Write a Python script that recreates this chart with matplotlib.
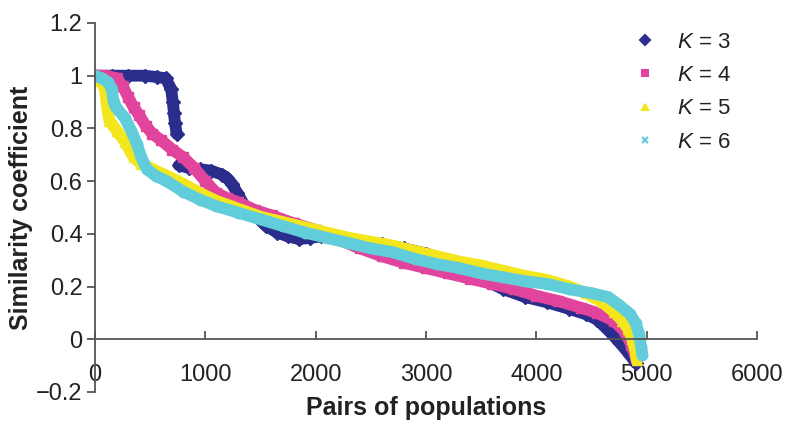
import numpy as np
import matplotlib
matplotlib.use("Agg")
import matplotlib.pyplot as plt
from matplotlib.lines import Line2D

plt.rcParams['font.family'] = ['Liberation Sans', 'DejaVu Sans']
plt.rcParams['mathtext.fontset'] = 'custom'
plt.rcParams['mathtext.it'] = 'Liberation Sans:italic'
plt.rcParams['mathtext.rm'] = 'Liberation Sans'

# sorted similarity coefficients (nan = gap in the points)
k3_x = [0, 150, 300, 450, 560, 640, 690, 705, 715, 725, 740, np.nan, 760, 850, 950, 1050, 1150, 1200,
        1240, 1290, 1350, 1450, 1550, 1650, 1750, 1850, 1950, 2050, 2150, 2250, 2400, 2600, 2800,
        3000, 3200, 3400, 3550, 3700, 3900, 4100, 4300, 4450, 4550, 4650, 4750, 4850, 4900]
k3_y = [1.0, 1.0, 1.0, 1.0, 0.995, 0.99, 0.95, 0.90, 0.86, 0.82, 0.78, np.nan, 0.66, 0.65, 0.645, 0.64,
        0.625, 0.61, 0.59, 0.555, 0.51, 0.47, 0.43, 0.405, 0.39, 0.38, 0.385, 0.39, 0.395, 0.385,
        0.37, 0.36, 0.345, 0.325, 0.30, 0.26, 0.22, 0.19, 0.16, 0.14, 0.115, 0.095, 0.075, 0.035,
        -0.01, -0.06, -0.09]

k4_x = [0, 100, 200, 250, 300, 350, 400, 460, 520, 600, 700, 800, 900, 1000, 1100, 1200, 1300,
        1450, 1600, 1800, 2000, 2200, 2400, 2600, 2800, 3000, 3200, 3400, 3600, 3800, 4000, 4200,
        4400, 4550, 4700, 4800, 4860, 4900]
k4_y = [1.0, 1.0, 0.99, 0.96, 0.92, 0.88, 0.85, 0.81, 0.78, 0.755, 0.72, 0.69, 0.65, 0.60, 0.555,
        0.535, 0.52, 0.49, 0.47, 0.44, 0.415, 0.38, 0.345, 0.315, 0.29, 0.27, 0.25, 0.23, 0.21,
        0.19, 0.165, 0.145, 0.12, 0.10, 0.07, 0.03, -0.02, -0.07]

k5_x = [0, 50, 90, 110, 130, 200, 270, 350, 420, 500, 600, 700, 800, 950, 1100, 1300, 1500, 1700,
        1900, 2100, 2300, 2500, 2700, 2900, 3100, 3300, 3500, 3700, 3900, 4100, 4300, 4450, 4600,
        4700, 4780, 4830, 4870, 4900, 4910]
k5_y = [1.0, 0.98, 0.95, 0.88, 0.83, 0.79, 0.75, 0.69, 0.665, 0.65, 0.63, 0.61, 0.59, 0.555, 0.525,
        0.495, 0.465, 0.445, 0.425, 0.405, 0.385, 0.37, 0.355, 0.335, 0.315, 0.295, 0.28, 0.26,
        0.24, 0.225, 0.20, 0.175, 0.14, 0.105, 0.07, 0.04, 0.0, -0.05, -0.08]

k6_x = [0, 60, 120, 150, 170, 190, 270, 330, 380, 420, 470, 550, 650, 800, 950, 1100, 1300, 1500,
        1700, 1900, 2100, 2300, 2500, 2700, 2900, 3100, 3300, 3500, 3700, 3900, 4100, 4300, 4500,
        4650, 4750, 4850, 4900, 4930, 4950, 4960]
k6_y = [1.0, 0.99, 0.975, 0.95, 0.90, 0.88, 0.84, 0.79, 0.74, 0.69, 0.645, 0.62, 0.60, 0.56, 0.53,
        0.505, 0.48, 0.455, 0.43, 0.405, 0.385, 0.365, 0.345, 0.33, 0.305, 0.285, 0.27, 0.25,
        0.235, 0.22, 0.21, 0.19, 0.175, 0.16, 0.13, 0.095, 0.06, 0.02, -0.03, -0.06]

labels = [r'$K$ = 3', r'$K$ = 4', r'$K$ = 5', r'$K$ = 6']
colors = ['#2a2d8c', '#e0449c', '#f4e61c', '#62cdda']
markers = ['D', 's', '^', 'x']

y_ticks = [-0.2, 0, 0.2, 0.4, 0.6, 0.8, 1.0, 1.2]
y_ticklabels = ['\u22120.2', '0', '0.2', '0.4', '0.6', '0.8', '1', '1.2']
x_ticks = [0, 1000, 2000, 3000, 4000, 5000, 6000]

fig = plt.figure(figsize=(7.87, 4.32), dpi=100)
ax = fig.add_axes([0.1207, 0.0926, 0.8413, 0.8542])

series = [(k3_x, k3_y), (k4_x, k4_y), (k5_x, k5_y), (k6_x, k6_y)]
for (xs, ys), c, m in zip(series, colors, markers):
    ax.plot(xs, ys, color=c, lw=8.5, solid_capstyle='round', solid_joinstyle='round', zorder=2)
    ax.plot(xs, ys, ls='none', marker=m if m != 'x' else 'o', ms=7.5, color=c, zorder=2)

ax.set_xlim(0, 6000)
ax.set_ylim(-0.2, 1.2)
ax.set_xticks(x_ticks)
ax.set_yticks(y_ticks)
ax.set_yticklabels(y_ticklabels)

ax.spines['top'].set_visible(False)
ax.spines['right'].set_visible(False)
ax.spines['bottom'].set_position(('data', 0))
for s in ['left', 'bottom']:
    ax.spines[s].set_color('#555555')
    ax.spines[s].set_linewidth(1.3)

ax.tick_params(axis='x', direction='in', length=6, width=1.3, color='#555555', pad=18,
               labelsize=17, labelcolor='#222222')
ax.tick_params(axis='y', direction='out', length=6, width=1.3, color='#555555', pad=3,
               labelsize=17, labelcolor='#222222')
for t in ax.get_xticklabels():
    t.set_zorder(1)

ax.set_xlabel('Pairs of populations', fontsize=18, fontweight='bold', color='#222222')
ax.xaxis.set_label_coords(0.5, -0.012)
ax.set_ylabel('Similarity coefficient', fontsize=18, fontweight='bold', color='#222222')
ax.yaxis.set_label_coords(-0.093, 0.5)

handles = [Line2D([], [], ls='none', marker=m, color=c, ms=5, mew=1.5) for c, m in zip(colors, markers)]
ax.legend(handles, labels, loc='upper right', bbox_to_anchor=(0.99, 1.03), frameon=False,
          fontsize=16, handlelength=1.0, handletextpad=0.9, labelspacing=0.55, labelcolor='#222222')

fig.savefig('out.png', dpi=100)
